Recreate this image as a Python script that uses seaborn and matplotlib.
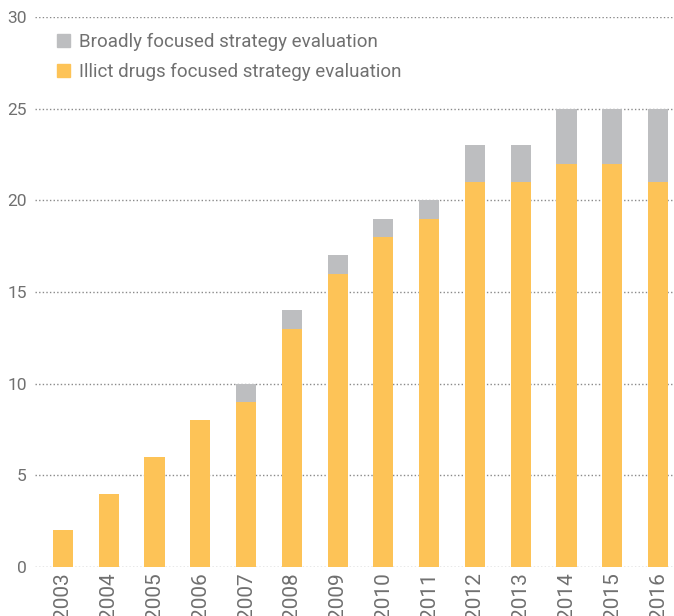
import matplotlib
matplotlib.use("Agg")
import matplotlib.pyplot as plt
import seaborn as sns
import pandas as pd
from matplotlib.patches import Patch

# datos
years = ['2003', '2004', '2005', '2006', '2007', '2008', '2009',
         '2010', '2011', '2012', '2013', '2014', '2015', '2016']
illicit = [2, 4, 6, 8, 9, 13, 16, 18, 19, 21, 21, 22, 22, 21]
broadly = [0, 0, 0, 0, 1, 1, 1, 1, 1, 2, 2, 3, 3, 4]
labels = ['Broadly focused strategy evaluation',
          'Illict drugs focused strategy evaluation']

orange = '#FDC357'
grey = '#BDBEC0'
txt = '#707070'

sns.set_theme(style='white')
plt.rcParams['font.family'] = ['Roboto', 'DejaVu Sans']

df = pd.DataFrame({'year': years, 'illicit': illicit, 'broadly': broadly})
df['total'] = df['illicit'] + df['broadly']

fig = plt.figure(figsize=(6.74, 6.16), dpi=100)
ax = fig.add_axes([35 / 674, 49 / 616, (681 - 35) / 674, 550 / 616])

# barras apiladas: total en gris, ilícitas encima en naranja
sns.barplot(data=df, x='year', y='total', color=grey, width=0.44,
            saturation=1, linewidth=0, ax=ax)
sns.barplot(data=df, x='year', y='illicit', color=orange, width=0.44,
            saturation=1, linewidth=0, ax=ax)

ax.set_xlim(-0.61, 13.5)
ax.set_ylim(0, 30)
ax.set_yticks(range(0, 31, 5))
ax.set_xlabel('')
ax.set_ylabel('')
ax.grid(axis='y', color='#8a8a8a', linestyle=(0, (1, 1.6)), linewidth=1)
ax.set_axisbelow(True)
for s in ax.spines.values():
    s.set_visible(False)

ax.tick_params(axis='y', length=0, pad=6, labelsize=12.5, labelcolor=txt)
ax.tick_params(axis='x', length=0, pad=4, labelsize=15, labelcolor=txt,
               rotation=90)

handles = [Patch(color=grey), Patch(color=orange)]
leg = ax.legend(handles, labels, loc='upper left',
                bbox_to_anchor=(57 / 674, 1 - 33 / 616),
                bbox_transform=fig.transFigure, frameon=False,
                fontsize=13.5, labelcolor=txt, handlelength=0.7,
                handleheight=0.7, handletextpad=0.45, labelspacing=0.62,
                borderaxespad=0, borderpad=0)

fig.savefig('out.png', dpi=100)
